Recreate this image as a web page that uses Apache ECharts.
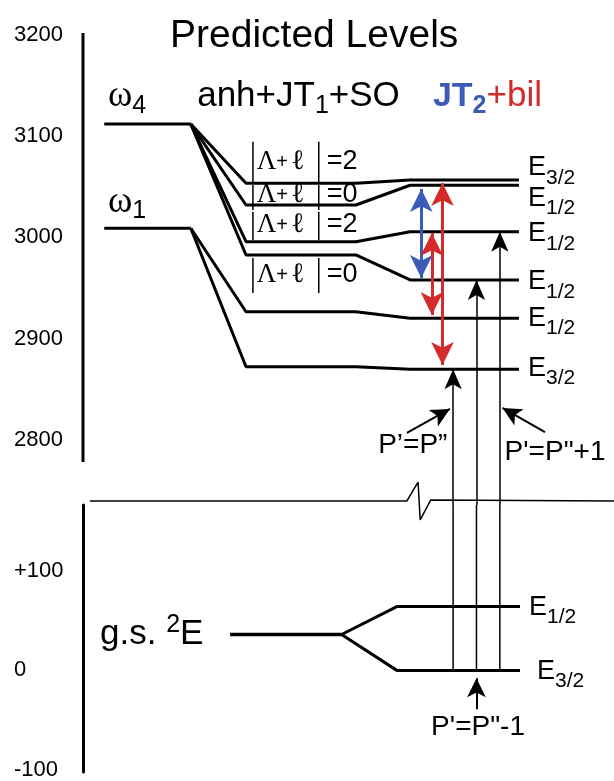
<!DOCTYPE html>
<html><head><meta charset="utf-8">
<script src="https://cdn.jsdelivr.net/npm/echarts@6/dist/echarts.min.js"></script>
<style>html,body{margin:0;padding:0;background:#fff}#c{width:614px;height:781px}</style>
</head><body><div id="c"></div>
<script>
// ---------------- data ----------------
const upperTicks = [2800, 2900, 3000, 3100, 3200];
const lowerTicks = [-100, 0, 100];
const omegaModes = ['4', '1'];
const omegaEnergy = [3112, 3009];
const levelParent = [0, 0, 0, 0, 1, 1];
const levelJT1 = [3053.5, 3032, 2995.7, 2982.6, 2926.5, 2872.2];
const levelFinal = [3056.7, 3051.5, 3005.6, 2957.9, 2920, 2869.6];
const levelSym = ['3/2', '1/2', '1/2', '1/2', '1/2', '3/2'];
const lambdaValue = [2, 0, 2, 0];
const lambdaCenter = [3074.5, 3041.9, 3012.2, 2962.8];
const lambdaBar = [[3094.6, 3053.7], [3051.8, 3027], [3025.4, 2997.4], [2979.6, 2945]];
const gsEnergy = 36;
const gsSplitEnergy = [64, 0];
const gsSym = ['1/2', '3/2'];
const transTarget = [5, 3, 2];
const jt2Pairs = [[3047.8, 2959.9]];
const bilPairs = [[3004.3, 2923.3], [3053.7, 2873.9]];

// ---------------- layout (schematic columns 0..100) ----------------
const colOmega = [4, 20.3];
const colStage = [20.3, 30.7, 51.4, 61.6, 82.1];
const colGs = [27.7, 48.7, 59.1, 82.3];
const colTrans = [69.7, 74.1, 78.5];
const colJt2 = [63.7];
const colBil = [65.7, 67.7];
const colBox = [32.0, 44.4];
const breakX = [1.3, 61.0, 63.1, 63.5, 65.5, 100];
const breakY = [2739.5, 2739.5, 2758.2, 2720.7, 2740.5, 2739.5];
const levelLabelDy = [-12, 13, 2, 2, 0, -1];

const Y_UP = { min: 2735.5, max: 3202 };
const Y_LO = { min: -102, max: 166 };
const SANS = 'Liberation Sans, Arial, Helvetica, sans-serif';
const SERIF = 'Liberation Serif, Times New Roman, serif';
const RED = '#d42a2a', BLUE = '#3a5bb8';
const INK = '#000';

const eRich = {
  e: { fontFamily: SANS, fontSize: 27, color: INK },
  s: { fontFamily: SANS, fontSize: 21, color: INK, padding: [20, 0, 0, 0] }
};
const textItem = { opacity: 1, color: 'transparent' };

const series = [];

// upper axis line
series.push({ type: 'line', xAxisIndex: 0, yAxisIndex: 0, clip: false, symbol: 'none', silent: true,
  lineStyle: { color: INK, width: 3 }, data: [[0, 2778], [0, 3202]] });

// omega levels
omegaEnergy.forEach((e, i) => {
  series.push({ type: 'line', xAxisIndex: 0, yAxisIndex: 0, symbol: 'none', silent: true, z: 3,
    lineStyle: { color: INK, width: 3 }, data: [[colOmega[0], e], [colOmega[1], e]] });
});

// predicted levels
levelJT1.forEach((v, i) => {
  const p = omegaEnergy[levelParent[i]];
  series.push({ type: 'line', xAxisIndex: 0, yAxisIndex: 0, symbol: 'none', silent: true, z: 3,
    lineStyle: { color: INK, width: 3 },
    data: [[colStage[0], p], [colStage[1], v], [colStage[2], v], [colStage[3], levelFinal[i]], [colStage[4], levelFinal[i]]],
    endLabel: { show: true, distance: 9, offset: [0, levelLabelDy[i]], color: INK,
      formatter: '{e|E}{s|' + levelSym[i] + '}', rich: eRich }
  });
});

// |Λ+ℓ| bars
lambdaBar.forEach(b => {
  colBox.forEach(x => {
    series.push({ type: 'line', xAxisIndex: 0, yAxisIndex: 0, symbol: 'none', silent: true, z: 2,
      lineStyle: { color: INK, width: 1.5 }, data: [[x, b[0]], [x, b[1]]] });
  });
});
// |Λ+ℓ| texts
series.push({ type: 'scatter', xAxisIndex: 0, yAxisIndex: 0, symbolSize: 0, silent: true, z: 1, itemStyle: textItem,
  data: lambdaCenter.map((y, i) => ({ value: [colBox[0] + 0.7, y], label: { formatter: '{L|Λ}{p|+} {l|ℓ}' } }))
    .concat(lambdaCenter.map((y, i) => ({ value: [colBox[1] + 1.5, y], label: { formatter: '{t|=' + lambdaValue[i] + '}' } }))),
  label: { show: true, position: 'right', distance: 0, color: INK, opacity: 1, textBorderWidth: 0,
    rich: { L: { fontFamily: SERIF, fontSize: 27, color: INK }, p: { fontFamily: SANS, fontSize: 20, color: INK },
            l: { fontFamily: SERIF, fontSize: 28, color: INK }, t: { fontFamily: SANS, fontSize: 27, color: INK } } }
});

// headers / omega labels
series.push({ type: 'scatter', xAxisIndex: 0, yAxisIndex: 0, symbolSize: 0, silent: true, z: 1, itemStyle: textItem,
  data: [
    { value: [4.7, 3139], label: { formatter: '{w|ω}{s|' + omegaModes[0] + '}' } },
    { value: [4.7, 3035], label: { formatter: '{w|ω}{s|' + omegaModes[1] + '}' } },
    { value: [21.5, 3139], label: { formatter: '{a|anh+JT}{s|1}{a|+SO}' } },
    { value: [65.9, 3139], label: { formatter: '{b|JT}{bs|2}{r|+bil}' } }
  ],
  label: { show: true, position: 'right', distance: 0, color: INK, opacity: 1, textBorderWidth: 0,
    rich: {
      w: { fontFamily: SERIF, fontSize: 37, color: INK },
      s: { fontFamily: SANS, fontSize: 25, color: INK, padding: [18, 0, 0, 0] },
      a: { fontFamily: SANS, fontSize: 35, color: INK },
      b: { fontFamily: SANS, fontSize: 34, fontWeight: 'bold', color: BLUE },
      bs: { fontFamily: SANS, fontSize: 25, fontWeight: 'bold', color: BLUE, padding: [18, 0, 0, 0] },
      r: { fontFamily: SANS, fontSize: 35, color: RED }
    } }
});

// break line
series.push({ type: 'line', xAxisIndex: 0, yAxisIndex: 0, symbol: 'none', silent: true, clip: false,
  lineStyle: { color: INK, width: 1.5 }, data: breakX.map((x, i) => [x, breakY[i]]) });

// transitions upper part with arrow heads
series.push({ type: 'line', xAxisIndex: 0, yAxisIndex: 0, symbol: 'none', silent: true, data: [], z: 4,
  markLine: { silent: true, symbol: ['none', 'arrow'], symbolSize: [13, 20], label: { show: false },
    lineStyle: { color: INK, width: 1.5, type: 'solid' },
    data: transTarget.map((t, i) => [{ coord: [colTrans[i], Y_UP.min] }, { coord: [colTrans[i], levelFinal[t]] }]) } });

// JT2 and bil double arrows
series.push({ type: 'line', xAxisIndex: 0, yAxisIndex: 0, symbol: 'none', silent: true, data: [], z: 5,
  markLine: { silent: true, symbol: ['arrow', 'arrow'], symbolSize: [17, 23], label: { show: false },
    lineStyle: { color: BLUE, width: 3, type: 'solid' },
    data: jt2Pairs.map((p, i) => [{ coord: [colJt2[i], p[0]] }, { coord: [colJt2[i], p[1]] }]) } });
series.push({ type: 'line', xAxisIndex: 0, yAxisIndex: 0, symbol: 'none', silent: true, data: [], z: 5,
  markLine: { silent: true, symbol: ['arrow', 'arrow'], symbolSize: [17, 23], label: { show: false },
    lineStyle: { color: RED, width: 3, type: 'solid' },
    data: bilPairs.map((p, i) => [{ coord: [colBil[i], p[0]] }, { coord: [colBil[i], p[1]] }]) } });

// annotation arrows (upper)
series.push({ type: 'line', xAxisIndex: 0, yAxisIndex: 0, symbol: 'none', silent: true, data: [], z: 4,
  markLine: { silent: true, symbol: ['none', 'arrow'], symbolSize: [14, 19], label: { show: false },
    lineStyle: { color: INK, width: 2, type: 'solid' },
    data: [
      [{ coord: [61.0, 2806.7] }, { coord: [colTrans[0] - 0.6, 2830.4] }],
      [{ coord: [87.0, 2807.6] }, { coord: [colTrans[2] + 0.5, 2831.4] }]
    ] } });
series.push({ type: 'scatter', xAxisIndex: 0, yAxisIndex: 0, symbolSize: 0, silent: true, itemStyle: textItem,
  data: [
    { value: [62.1, 2794.8], label: { formatter: 'P’=P”' } },
    { value: [88.9, 2787.9], label: { formatter: 'P\'=P"+1' } }
  ],
  label: { show: true, position: 'inside', fontFamily: SANS, fontSize: 28, color: INK, opacity: 1, textBorderWidth: 0 } });

// ---------------- lower panel ----------------
series.push({ type: 'line', xAxisIndex: 1, yAxisIndex: 1, symbol: 'none', silent: true, z: 3,
  lineStyle: { color: INK, width: 3.5 }, data: [[colGs[0], gsEnergy], [colGs[1], gsEnergy]] });
gsSplitEnergy.forEach((v, i) => {
  series.push({ type: 'line', xAxisIndex: 1, yAxisIndex: 1, symbol: 'none', silent: true, z: 3,
    lineStyle: { color: INK, width: 3 },
    data: [[colGs[1], gsEnergy], [colGs[2], v], [colGs[3], v]],
    endLabel: { show: true, distance: i === 0 ? 9 : 17, offset: [0, 1], color: INK,
      formatter: '{e|E}{s|' + gsSym[i] + '}', rich: eRich } });
});
// transitions lower part
colTrans.forEach(x => {
  series.push({ type: 'line', xAxisIndex: 1, yAxisIndex: 1, symbol: 'none', silent: true, z: 4,
    lineStyle: { color: INK, width: 1.5 }, data: [[x, gsSplitEnergy[1]], [x, Y_LO.max]] });
});
series.push({ type: 'line', xAxisIndex: 1, yAxisIndex: 1, symbol: 'none', silent: true, data: [], z: 4,
  markLine: { silent: true, symbol: ['none', 'arrow'], symbolSize: [14, 19], label: { show: false },
    lineStyle: { color: INK, width: 2, type: 'solid' },
    data: [[{ coord: [colTrans[1], -39] }, { coord: [colTrans[1], -8] }]] } });
series.push({ type: 'scatter', xAxisIndex: 1, yAxisIndex: 1, symbolSize: 0, silent: true, itemStyle: textItem,
  data: [
    { value: [74.4, -57], label: { position: 'inside', formatter: '{a|P\'=P"-1}' } },
    { value: [3.2, gsEnergy], label: { position: 'right', distance: 0, formatter: '{g|g.s. }{sup|2}{g|E}' } }
  ],
  label: { show: true, color: INK, opacity: 1, textBorderWidth: 0, rich: {
    a: { fontFamily: SANS, fontSize: 28, color: INK },
    g: { fontFamily: SANS, fontSize: 35, color: INK },
    sup: { fontFamily: SANS, fontSize: 25, color: INK, padding: [0, 0, 18, 0] } } } });

const chart = echarts.init(document.getElementById('c'), null, { renderer: 'canvas' });
chart.setOption({
  animation: false,
  backgroundColor: '#fff',
  title: { text: 'Predicted Levels', left: 165, top: 12,
    textStyle: { fontFamily: SANS, fontSize: 39, fontWeight: 'normal', color: INK } },
  grid: [
    { left: 83, right: 0, top: 33, height: 472 },
    { left: 83, right: 0, top: 505, height: 268 }
  ],
  xAxis: [
    { type: 'value', gridIndex: 0, min: 0, max: 100, show: false },
    { type: 'value', gridIndex: 1, min: 0, max: 100, show: false }
  ],
  yAxis: [
    { type: 'value', gridIndex: 0, min: Y_UP.min, max: Y_UP.max,
      axisLine: { show: false }, axisTick: { show: false }, splitLine: { show: false },
      axisLabel: { customValues: upperTicks, align: 'left', margin: 69, fontFamily: SANS, fontSize: 22, color: INK,
        formatter: v => String(v) } },
    { type: 'value', gridIndex: 1, min: Y_LO.min, max: Y_LO.max,
      axisLine: { show: true, lineStyle: { color: INK, width: 3 } }, axisTick: { show: false }, splitLine: { show: false },
      axisLabel: { customValues: lowerTicks, align: 'left', margin: 69, fontFamily: SANS, fontSize: 22, color: INK,
        formatter: v => (v > 0 ? '+' + v : String(v)) } }
  ],
  series: series
});
</script></body></html>
